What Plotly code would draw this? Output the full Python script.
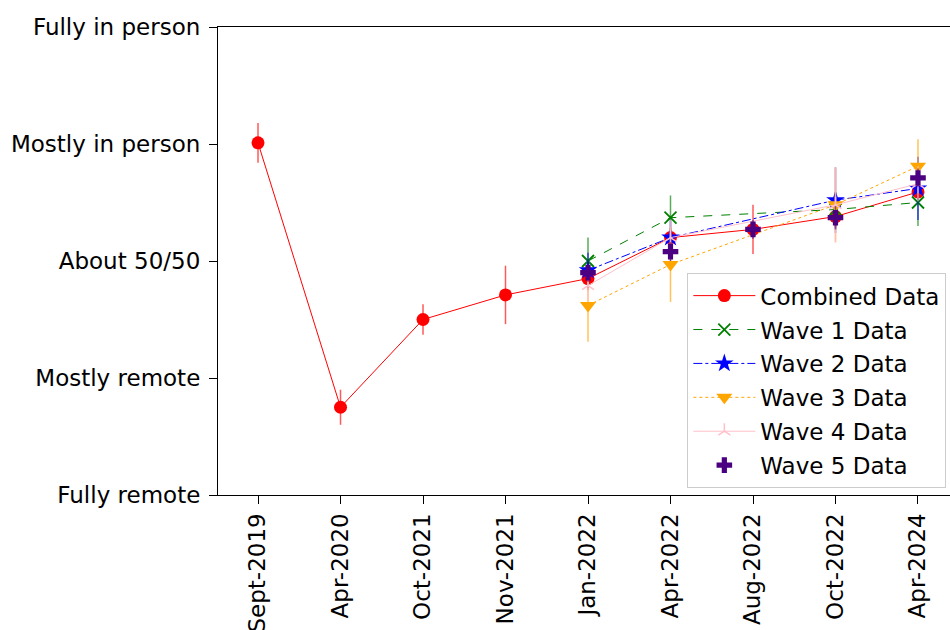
import plotly.graph_objects as go

# Survey timepoints (categorical x axis)
dates = ["Sept-2019", "Apr-2020", "Oct-2021", "Nov-2021", "Jan-2022",
         "Apr-2022", "Aug-2022", "Oct-2022", "Apr-2024"]

# Response scale
scale_vals = [1, 2, 3, 4, 5]
scale_labels = ["Fully remote", "Mostly remote", "About 50/50",
                "Mostly in person", "Fully in person"]

# Combined data
combined = [4.01, 1.75, 2.50, 2.71, 2.85, 3.20, 3.27, 3.38, 3.59]
combined_err = [0.17, 0.15, 0.13, 0.25, 0.10, 0.08, 0.21, 0.10, 0.10]

# Waves 1-4
wave_dates = ["Jan-2022", "Apr-2022", "Oct-2022", "Apr-2024"]
wave1 = [3.00, 3.37, 3.44, 3.50]
wave1_err = [0.20, 0.19, 0.15, 0.20]
wave2 = [2.92, 3.20, 3.52, 3.62]
wave2_err = [0.15, 0.15, 0.28, 0.27]
wave3 = [2.62, 2.97, 3.48, 3.81]
wave3_err = [0.31, 0.32, 0.32, 0.23]
wave4 = [2.79, 3.20, 3.48, 3.66]
wave4_err = [0.12, 0.15, 0.32, 0.15]

# Wave 5
wave5_dates = ["Jan-2022", "Apr-2022", "Aug-2022", "Oct-2022", "Apr-2024"]
wave5 = [2.90, 3.08, 3.27, 3.37, 3.71]
wave5_err = [0.08, 0.08, 0.08, 0.10, 0.08]

FONT = "DejaVu Sans"
FS = 23


def err(values, color):
    return dict(type="data", array=values, visible=True, color=color,
                thickness=1.5, width=0)


fig = go.Figure()

fig.add_trace(go.Scatter(
    x=dates, y=combined, name="Combined Data", mode="lines+markers",
    legendgroup="c",
    line=dict(color="red", width=1),
    marker=dict(symbol="circle", size=13, color="red"),
    error_y=err(combined_err, "rgba(255,0,0,0.65)"),
))
fig.add_trace(go.Scatter(
    x=wave_dates, y=wave1, name="Wave 1 Data", mode="lines+markers",
    legendgroup="w1",
    line=dict(color="green", width=1, dash="dash"),
    marker=dict(symbol="x-thin", size=12, color="green",
                line=dict(color="green", width=1.8)),
    error_y=err(wave1_err, "rgba(0,128,0,0.65)"),
))
fig.add_trace(go.Scatter(
    x=wave_dates, y=wave2, name="Wave 2 Data", mode="lines+markers",
    legendgroup="w2",
    line=dict(color="blue", width=1, dash="dashdot"),
    marker=dict(symbol="star", size=14, color="blue"),
    error_y=err(wave2_err, "rgba(0,0,255,0.65)"),
))
fig.add_trace(go.Scatter(
    x=wave_dates, y=wave3, name="Wave 3 Data", mode="lines+markers",
    legendgroup="w3",
    line=dict(color="orange", width=1, dash="dot"),
    marker=dict(symbol="triangle-down", size=14, color="orange"),
    error_y=err(wave3_err, "rgba(255,165,0,0.65)"),
))
fig.add_trace(go.Scatter(
    x=wave_dates, y=wave4, name="Wave 4 Data", mode="lines+markers",
    legendgroup="w4",
    line=dict(color="pink", width=1),
    marker=dict(symbol="y-up", size=10, color="pink",
                line=dict(color="pink", width=1.5)),
    error_y=err(wave4_err, "rgba(255,192,203,0.8)"),
))
fig.add_trace(go.Scatter(
    x=wave5_dates, y=wave5, name="Wave 5 Data", mode="markers",
    legendgroup="w5",
    marker=dict(symbol="cross", size=13, color="indigo"),
    error_y=err(wave5_err, "rgba(75,0,130,0.65)"),
))

fig.update_layout(
    width=950, height=630,
    margin=dict(l=218, r=0, t=27, b=135),
    plot_bgcolor="white", paper_bgcolor="white",
    font=dict(family=FONT, size=FS, color="black"),
    showlegend=True,
    legend=dict(
        x=0.995, y=0.474, xanchor="right", yanchor="top",
        bgcolor="rgba(255,255,255,0.8)", bordercolor="#cccccc", borderwidth=1,
        font=dict(family=FONT, size=FS), tracegroupgap=1,
        itemwidth=62,
    ),
)

fig.update_xaxes(
    type="category", categoryorder="array", categoryarray=dates,
    range=[-0.485, 8.388], automargin=False,
    showline=True, linecolor="black", linewidth=1.2, mirror=True,
    ticks="outside", ticklen=8, tickcolor="black", tickwidth=1.2,
    tickangle=-90, showgrid=False, zeroline=False,
    tickfont=dict(family=FONT, size=FS),
)
fig.update_yaxes(
    range=[1, 5], tickvals=scale_vals, ticktext=scale_labels,
    automargin=False,
    showline=True, linecolor="black", linewidth=1.2, mirror=False,
    ticks="outside", ticklen=8, tickcolor="black", tickwidth=1.2,
    ticklabelstandoff=4,
    showgrid=False, zeroline=False,
    tickfont=dict(family=FONT, size=FS),
)

fig.write_html("out.html")
